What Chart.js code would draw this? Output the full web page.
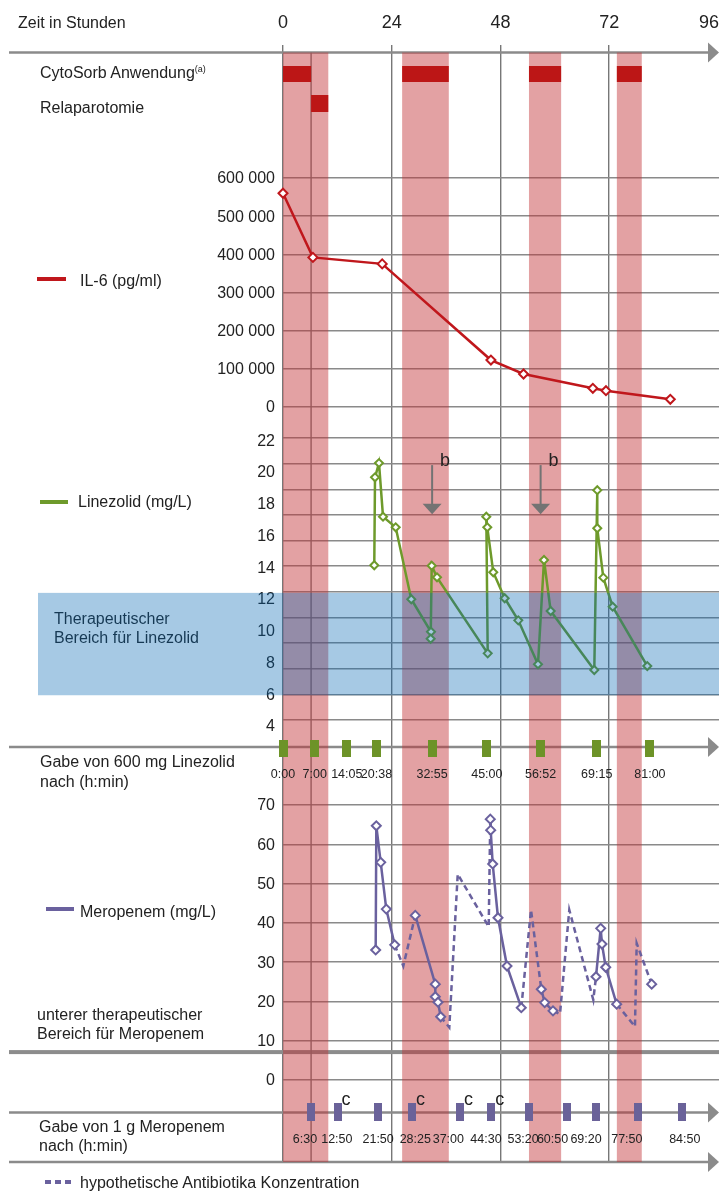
<!DOCTYPE html>
<html><head><meta charset="utf-8">
<script src="https://cdn.jsdelivr.net/npm/chart.js@4.4.1/dist/chart.umd.min.js"></script>
<style>
html,body{margin:0;padding:0;background:#fff;}
#wrap{position:relative;width:719px;height:1202px;overflow:hidden;font-family:"Liberation Sans",Arial,Helvetica,sans-serif;color:#222;}
#c{position:absolute;left:0;top:0;}
.lbl{position:absolute;font-size:16px;line-height:19px;white-space:nowrap;}
.sw{position:absolute;height:4px;}
sup{font-size:9px;vertical-align:6px;line-height:0;}
</style></head><body>
<div id="wrap">
<canvas id="c" width="719" height="1202"></canvas>
<div class="lbl" style="left:18px;top:13px">Zeit in Stunden</div>
<div class="lbl" style="left:40px;top:63px">CytoSorb Anwendung<sup>(a)</sup></div>
<div class="lbl" style="left:40px;top:98px">Relaparotomie</div>
<div class="sw" style="left:37px;top:277px;width:29px;background:#c0171c"></div>
<div class="lbl" style="left:80px;top:271px">IL-6 (pg/ml)</div>
<div class="sw" style="left:40px;top:500px;width:28px;background:#6e9a2b"></div>
<div class="lbl" style="left:78px;top:492px">Linezolid (mg/L)</div>
<div class="lbl" style="left:54px;top:609px;color:rgb(22,57,84)">Therapeutischer<br>Bereich für Linezolid</div>
<div class="lbl" style="left:40px;top:752px;line-height:20px">Gabe von 600 mg Linezolid<br>nach (h:min)</div>
<div class="sw" style="left:46px;top:907px;width:28px;background:#6a619e"></div>
<div class="lbl" style="left:80px;top:902px">Meropenem (mg/L)</div>
<div class="lbl" style="left:37px;top:1006px;line-height:18.5px">unterer therapeutischer<br>Bereich für Meropenem</div>
<div class="lbl" style="left:39px;top:1117px">Gabe von 1 g Meropenem<br>nach (h:min)</div>
<div class="sw" style="left:45px;top:1180px;width:28px;background:repeating-linear-gradient(90deg,#6a619e 0 6px,transparent 6px 10px)"></div>
<div class="lbl" style="left:80px;top:1173px">hypothetische Antibiotika Konzentration</div>
</div>
<script>
// ---------------- data ----------------
const xTicks = [0, 24, 48, 72, 96];
const xGridHours = [0, 24, 48, 72];
const cytoSorbStart = [0, 26.3, 54.3, 73.7];
const cytoSorbEnd = [6.2, 36.6, 61.4, 79.2];
const relapStart = [6.2];
const relapEnd = [10.0];
const bandStart = [0, 26.3, 54.3, 73.7];
const bandEnd = [10.0, 36.6, 61.4, 79.2];

const il6Hours = [0, 6.6, 21.9, 45.9, 53.1, 68.4, 71.3, 85.5];
const il6Values = [560000, 392000, 375000, 123000, 86500, 49000, 42700, 20200];
const il6Ticks = [0, 100000, 200000, 300000, 400000, 500000, 600000];

const lzHours = [20.15, 20.31, 21.19, 22.08, 24.88, 28.32, 32.67, 32.6, 32.83, 34.0, 45.19, 44.88, 45.1, 46.42, 48.94, 51.94, 56.29, 57.62, 59.09, 68.72, 69.38, 69.38, 70.71, 72.78, 80.42];
const lzValues = [14.19, 19.73, 20.63, 17.25, 16.58, 12.05, 10.0, 9.56, 14.16, 13.43, 8.64, 17.25, 16.58, 13.75, 12.11, 10.72, 7.95, 14.52, 11.31, 7.59, 18.92, 16.52, 13.41, 11.58, 7.84];
const lzTicks = [4, 6, 8, 10, 12, 14, 16, 18, 20, 22];
const lzGridLines = [0, 1, 2, 3, 4, 5, 6, 7, 8, 9, 10, 11];
const lzTherapeutic = [6.0, 12.45];
const lzDoseHours = [0, 7, 14.083, 20.633, 32.917, 45, 56.867, 69.25, 81];
const lzDoseLabels = ['0:00', '7:00', '14:05', '20:38', '32:55', '45:00', '56:52', '69:15', '81:00'];
const bArrowHours = [32.92, 56.87];
const bArrowFrom = 20.5;
const bArrowTo = 17.4;

const meroHours = [20.46, 20.6, 21.57, 22.8, 24.66, 26.56, 29.2, 33.62, 33.62, 34.22, 34.81, 36.71, 38.57, 45.41, 45.76, 45.85, 46.29, 47.46, 49.45, 52.6, 54.75, 57.02, 57.77, 59.6, 61.15, 63.2, 68.5, 69.1, 70.13, 70.42, 71.24, 73.66, 77.7, 78.08, 81.39];
const meroValues = [33.1, 64.7, 55.4, 43.5, 34.4, 29.0, 41.9, 24.4, 21.2, 19.8, 16.1, 13.4, 52.4, 39.0, 66.4, 63.6, 55.0, 41.3, 29.0, 18.4, 43.3, 23.1, 19.7, 17.6, 16.8, 43.3, 20.4, 26.3, 38.6, 34.6, 28.7, 19.3, 13.6, 34.8, 24.4];
const meroMeasured = [1,1,1,1,1,0,1,1,1,1,1,0,0,0,1,1,1,1,1,1,0,1,1,1,0,0,0,1,1,1,1,1,0,0,1];
const meroTicks = [0, 10, 20, 30, 40, 50, 60, 70];
const meroLowerLimit = 7.1;
const meroDoseHours = [6.1, 12.05, 21.06, 28.5, 39.1, 46.0, 54.4, 62.8, 69.2, 78.4, 88.0];
const meroDoseLabels = ['6:30', '12:50', '21:50', '28:25', '37:00', '44:30', '53:20', '60:50', '69:20', '77:50', '84:50'];
const meroDoseLabelAt = [4.86, 11.88, 21.0, 29.2, 36.5, 44.8, 53.0, 59.5, 66.9, 75.9, 88.7];
const meroDoseC = [false, true, false, true, true, true, false, false, false, false, false];

// ---------------- layout ----------------
const CA = {left: 283, top: 45, right: 719, bottom: 1163};
function fitAxis(v1, p1, v2, p2) {
  const s = (p2 - p1) / (v2 - v1);
  return {min: v1 + (CA.bottom - p1) / s, max: v1 + (CA.top - p1) / s};
}
const il6Range = fitAxis(0, 407, 600000, 178);
const lzRange = fitAxis(4, 727, 22, 441.3);
const lzGridRange = fitAxis(0, 720, 11, 438);
const meroRange = fitAxis(10, 1040.7, 70, 805);
const LANE = {topArrow: 52.5, cyto: 74, relap: 103.5, lzRow: 747, lzDose: 748.5, meroRow: 1112.5, meroDose: 1112, bottomArrow: 1162};

const FONT = '"Liberation Sans", Arial, Helvetica, sans-serif';
const RED = '#c0171c', GREEN = '#6e9a2b', PURPLE = '#6a619e', TXT = '#222';

function rectImg(w, h, color) {
  const c = document.createElement('canvas'); c.width = w; c.height = h;
  const g = c.getContext('2d'); g.fillStyle = color; g.fillRect(0, 0, w, h); return c;
}
const greenRect = rectImg(9, 17, '#6d9328');
const purpleRect = rectImg(8, 18, '#6a6299');

function fmtThousands(v) { return String(v).replace(/\B(?=(\d{3})+(?!\d))/g, ' '); }

function arrowLine(ctx, y, x0, x1) {
  ctx.save();
  ctx.strokeStyle = '#8b8b8b'; ctx.fillStyle = '#8b8b8b'; ctx.lineWidth = 2.5;
  ctx.beginPath(); ctx.moveTo(x0, y); ctx.lineTo(x1 - 10, y); ctx.stroke();
  ctx.beginPath(); ctx.moveTo(x1 - 11, y - 10); ctx.lineTo(x1, y); ctx.lineTo(x1 - 11, y + 10); ctx.closePath(); ctx.fill();
  ctx.restore();
}

const decor = {
  id: 'decor',
  beforeDraw(chart) {
    const ctx = chart.ctx; ctx.save(); ctx.fillStyle = '#fff'; ctx.fillRect(0, 0, chart.width, chart.height); ctx.restore();
  },
  beforeDatasetsDraw(chart) {
    const ctx = chart.ctx, s = chart.scales, x = s.x, lane = s.yLane;
    ctx.save();
    ctx.fillStyle = TXT; ctx.font = '18px ' + FONT; ctx.textAlign = 'center'; ctx.textBaseline = 'middle';
    xTicks.forEach(t => {
      const w = ctx.measureText(String(t)).width;
      let px = x.getPixelForValue(t);
      px = Math.min(px, chart.width - w / 2);
      ctx.fillText(String(t), px, 23);
    });
    ctx.font = '16px ' + FONT; ctx.textAlign = 'right';
    il6Ticks.forEach(v => ctx.fillText(fmtThousands(v), 275, s.yIL6.getPixelForValue(v) + 1));
    lzTicks.forEach(v => ctx.fillText(String(v), 275, s.yLz.getPixelForValue(v)));
    meroTicks.forEach(v => ctx.fillText(String(v), 275, s.yMero.getPixelForValue(v) + 1));
    ctx.restore();
    arrowLine(ctx, lane.getPixelForValue(LANE.topArrow), 9, chart.width);
    arrowLine(ctx, lane.getPixelForValue(LANE.lzRow), 9, chart.width);
    arrowLine(ctx, lane.getPixelForValue(LANE.meroRow), 9, chart.width);
    arrowLine(ctx, lane.getPixelForValue(LANE.bottomArrow), 9, chart.width);
    ctx.save();
    ctx.fillStyle = '#8c8c8c';
    const ly = s.yMero.getPixelForValue(meroLowerLimit);
    ctx.fillRect(9, ly - 2, chart.width - 9, 4);
    const yTop = lane.getPixelForValue(LANE.topArrow), yBot = lane.getPixelForValue(LANE.bottomArrow);
    ctx.strokeStyle = '#7a7a7a'; ctx.lineWidth = 1.4;
    relapStart.forEach(h => { const px = x.getPixelForValue(h); ctx.beginPath(); ctx.moveTo(px, yTop); ctx.lineTo(px, yBot); ctx.stroke(); });
    ctx.fillStyle = 'rgba(193,46,51,0.45)';
    bandStart.forEach((h, i) => {
      const a = x.getPixelForValue(h), b = x.getPixelForValue(bandEnd[i]);
      ctx.fillRect(a, yTop, b - a, yBot - yTop);
    });
    ctx.fillStyle = '#bc1616';
    cytoSorbStart.forEach((h, i) => {
      const a = x.getPixelForValue(h), b = x.getPixelForValue(cytoSorbEnd[i]);
      const c = lane.getPixelForValue(LANE.cyto);
      ctx.fillRect(a, c - 8, b - a, 16);
    });
    relapStart.forEach((h, i) => {
      const a = x.getPixelForValue(h), b = x.getPixelForValue(relapEnd[i]);
      const c = lane.getPixelForValue(LANE.relap);
      ctx.fillRect(a, c - 8.5, b - a, 17);
    });
    ctx.restore();
  },
  afterDatasetsDraw(chart) {
    const ctx = chart.ctx, s = chart.scales, x = s.x, lane = s.yLane;
    ctx.save();
    ctx.fillStyle = TXT; ctx.font = '12.5px ' + FONT; ctx.textAlign = 'center'; ctx.textBaseline = 'middle';
    lzDoseLabels.forEach((l, i) => ctx.fillText(l, x.getPixelForValue(lzDoseHours[i]), lane.getPixelForValue(LANE.lzDose) + 26));
    meroDoseLabels.forEach((l, i) => ctx.fillText(l, x.getPixelForValue(meroDoseLabelAt[i]), lane.getPixelForValue(LANE.meroDose) + 28));
    ctx.font = '18px ' + FONT; ctx.textAlign = 'left'; ctx.textBaseline = 'alphabetic';
    meroDoseC.forEach((f, i) => { if (f) ctx.fillText('c', x.getPixelForValue(meroDoseHours[i]) + 4, lane.getPixelForValue(LANE.meroDose) - 7); });
    bArrowHours.forEach(h => {
      const px = x.getPixelForValue(h);
      const y0 = s.yLz.getPixelForValue(bArrowFrom), y1 = s.yLz.getPixelForValue(bArrowTo);
      ctx.strokeStyle = '#737373'; ctx.fillStyle = '#737373'; ctx.lineWidth = 2;
      ctx.beginPath(); ctx.moveTo(px, y0); ctx.lineTo(px, y1 - 9); ctx.stroke();
      ctx.beginPath(); ctx.moveTo(px - 9.5, y1 - 10.5); ctx.lineTo(px + 9.5, y1 - 10.5); ctx.lineTo(px, y1); ctx.closePath(); ctx.fill();
      ctx.fillStyle = TXT; ctx.fillText('b', px + 8, y0 + 1);
    });
    const t = s.yLz.getPixelForValue(lzTherapeutic[1]), b = s.yLz.getPixelForValue(lzTherapeutic[0]);
    ctx.fillStyle = 'rgba(0,100,178,0.35)';
    ctx.fillRect(38, t, chart.width - 38, b - t);
    ctx.restore();
  }
};

const gridY = {color: '#8a8a8a', lineWidth: 1.5, drawTicks: false};
const ctx = document.getElementById('c').getContext('2d');
new Chart(ctx, {
  type: 'line',
  data: {
    datasets: [
      {label: 'IL-6', yAxisID: 'yIL6', data: il6Hours.map((h, i) => ({x: h, y: il6Values[i]})),
       borderColor: RED, borderWidth: 2.5, pointStyle: 'rectRot', pointRadius: 4.5, pointBorderWidth: 2,
       pointBackgroundColor: '#fff', pointBorderColor: RED, clip: false},
      {label: 'Linezolid', yAxisID: 'yLz', data: lzHours.map((h, i) => ({x: h, y: lzValues[i]})),
       borderColor: GREEN, borderWidth: 2.5, pointStyle: 'rectRot', pointRadius: 4, pointBorderWidth: 2,
       pointBackgroundColor: '#fff', pointBorderColor: GREEN, clip: false},
      {label: 'Meropenem', yAxisID: 'yMero', data: meroHours.map((h, i) => ({x: h, y: meroValues[i]})),
       borderColor: PURPLE, borderWidth: 2.5, pointStyle: 'rectRot',
       pointRadius: c => meroMeasured[c.dataIndex] ? 4.5 : 0, pointBorderWidth: 2,
       pointBackgroundColor: '#fff', pointBorderColor: PURPLE, clip: false,
       segment: {borderDash: c => (meroMeasured[c.p0DataIndex] && meroMeasured[c.p1DataIndex]) ? undefined : [6, 4]}},
      {label: 'Linezolid Gabe', yAxisID: 'yLane', showLine: false, data: lzDoseHours.map(h => ({x: h, y: LANE.lzDose})),
       pointStyle: greenRect, pointRadius: 5, clip: false},
      {label: 'Meropenem Gabe', yAxisID: 'yLane', showLine: false, data: meroDoseHours.map(h => ({x: h, y: LANE.meroDose})),
       pointStyle: purpleRect, pointRadius: 5, clip: false}
    ]
  },
  options: {
    responsive: false, animation: false, devicePixelRatio: 1, events: [],
    layout: {autoPadding: false, padding: {left: CA.left, right: 719 - CA.right, top: CA.top, bottom: 1202 - CA.bottom}},
    plugins: {legend: {display: false}, tooltip: {enabled: false}},
    scales: {
      x: {type: 'linear', min: 0, max: 96.25, bounds: 'data', ticks: {display: false}, border: {display: false},
          grid: {color: '#777', lineWidth: 1.4, drawTicks: false},
          afterBuildTicks: sc => { sc.ticks = xGridHours.map(v => ({value: v})); }},
      yIL6: {type: 'linear', position: 'left', bounds: 'data', min: il6Range.min, max: il6Range.max,
             ticks: {display: false}, border: {display: false}, grid: gridY,
             afterBuildTicks: sc => { sc.ticks = il6Ticks.map(v => ({value: v})); }},
      yLz: {type: 'linear', position: 'left', display: false, bounds: 'data', min: lzRange.min, max: lzRange.max},
      yLzGrid: {type: 'linear', position: 'left', bounds: 'data', min: lzGridRange.min, max: lzGridRange.max,
            ticks: {display: false}, border: {display: false}, grid: gridY,
            afterBuildTicks: sc => { sc.ticks = lzGridLines.map(v => ({value: v})); }},
      yMero: {type: 'linear', position: 'left', bounds: 'data', min: meroRange.min, max: meroRange.max,
             ticks: {display: false}, border: {display: false}, grid: gridY,
             afterBuildTicks: sc => { sc.ticks = meroTicks.map(v => ({value: v})); }},
      yLane: {type: 'linear', position: 'left', display: false, reverse: true, min: CA.top, max: CA.bottom, bounds: 'data'}
    }
  },
  plugins: [decor]
});
</script>
</body></html>
